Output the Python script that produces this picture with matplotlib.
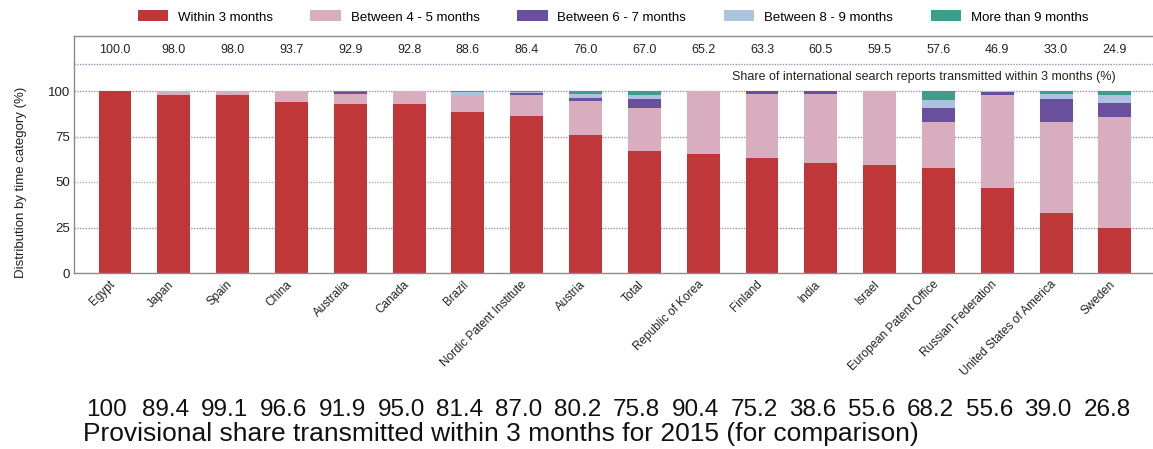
import matplotlib
matplotlib.use("Agg")
import matplotlib.pyplot as plt
from matplotlib import font_manager
from matplotlib.patches import Patch
import matplotlib.transforms as mtransforms
import numpy as np

categories = ["Egypt", "Japan", "Spain", "China", "Australia", "Canada", "Brazil",
              "Nordic Patent Institute", "Austria", "Total", "Republic of Korea",
              "Finland", "India", "Israel", "European Patent Office",
              "Russian Federation", "United States of America", "Sweden"]
within_3 = [100.0, 98.0, 98.0, 93.7, 92.9, 92.8, 88.6, 86.4, 76.0, 67.0, 65.2,
            63.3, 60.5, 59.5, 57.6, 46.9, 33.0, 24.9]
between_4_5 = [0.0, 2.0, 1.8, 5.7, 5.6, 6.7, 8.5, 11.2, 18.3, 23.7, 34.6,
               35.3, 38.1, 40.5, 25.2, 51.1, 49.8, 60.6]
between_6_7 = [0.0, 0.0, 0.1, 0.2, 0.8, 0.2, 0.2, 1.5, 1.7, 4.9, 0.0,
               1.2, 1.2, 0.0, 7.9, 1.6, 12.8, 7.9]
between_8_9 = [0.0, 0.0, 0.05, 0.2, 0.4, 0.1, 2.0, 0.6, 2.6, 2.0, 0.0,
               0.1, 0.1, 0.0, 4.3, 0.2, 3.0, 4.6]
more_9 = [0.0, 0.0, 0.05, 0.2, 0.3, 0.2, 0.7, 0.3, 1.4, 2.4, 0.2,
          0.1, 0.1, 0.0, 5.0, 0.2, 1.4, 2.0]
header_values = ["100.0", "98.0", "98.0", "93.7", "92.9", "92.8", "88.6", "86.4",
                 "76.0", "67.0", "65.2", "63.3", "60.5", "59.5", "57.6", "46.9",
                 "33.0", "24.9"]
provisional_2015 = ["100", "89.4", "99.1", "96.6", "91.9", "95.0", "81.4", "87.0",
                    "80.2", "75.8", "90.4", "75.2", "38.6", "55.6", "68.2", "55.6",
                    "39.0", "26.8"]
series_names = ["Within 3 months", "Between 4 - 5 months", "Between 6 - 7 months",
                "Between 8 - 9 months", "More than 9 months"]
y_ticks = [0, 25, 50, 75, 100]

colors = ["#c0373a", "#d8adbd", "#6a4f9e", "#adc2df", "#3f9d8c"]

avail = {f.name for f in font_manager.fontManager.ttflist}
narrow = "Liberation Sans Narrow" if "Liberation Sans Narrow" in avail else "Liberation Sans"
plt.rcParams["font.family"] = [narrow, "DejaVu Sans"]

W, H = 1153, 449
fig = plt.figure(figsize=(W / 100, H / 100), dpi=100)
left_px, right_px, bot_px, top_px = 74, 1160, 273, 36
ax = fig.add_axes([left_px / W, 1 - bot_px / H, (right_px - left_px) / W, (bot_px - top_px) / H])

x = np.arange(len(categories))
px_per_unit = 58.82
xl = -(115 - left_px) / px_per_unit
ax.set_xlim(xl, xl + (right_px - left_px) / px_per_unit)
ymax = 100 * (bot_px - top_px) / (273 - 91)
ax.set_ylim(0, ymax)

# gridlines
for yv, c in [(25, "#9c8fb5"), (50, "#a9bca0"), (75, "#9c8fb5"), (100, "#9c8fb5")]:
    ax.axhline(yv, color=c, lw=1.0, ls=(0, (1, 1)), zorder=0)
ax.axhline(100 * (273 - 64) / (273 - 91), color="#9c8fb5", lw=1.0, ls=(0, (1, 1)), zorder=0)

bottom = np.zeros(len(categories))
series = [within_3, between_4_5, between_6_7, between_8_9, more_9]
for vals, col, name in zip(series, colors, series_names):
    vals = np.array(vals)
    ax.bar(x, vals, width=0.56, bottom=bottom, color=col, label=name, zorder=2, linewidth=0)
    bottom += vals

for s in ax.spines.values():
    s.set_color("#8a8a8a")
    s.set_linewidth(1.0)

ax.set_yticks(y_ticks)
ax.set_yticklabels([str(v) for v in y_ticks], fontsize=9.5, color="#222222")
ax.tick_params(axis="y", length=0, pad=3)
ax.set_xticks(x)
ax.set_xticklabels(categories, rotation=45, ha="right", rotation_mode="anchor",
                   fontsize=8.5, color="#222222")
ax.tick_params(axis="x", length=0, pad=4)
for lab in ax.get_xticklabels():
    lab.set_transform(lab.get_transform() + mtransforms.ScaledTranslation(-6 / 100, 0, fig.dpi_scale_trans))

ax.set_ylabel("Distribution by time category (%)", fontsize=9.5, color="#222222")
ax.yaxis.set_label_coords(-47 / (right_px - left_px), 100 / 2 / ymax)

# header values
hy = 100 * (273 - 50) / (273 - 91)
for xi, v in zip(x, header_values):
    ax.text(xi, hy, v, ha="center", va="center", fontsize=9, color="#222222")
sy = 100 * (273 - 77) / (273 - 91)
ax.text(x[-1] + 0.02, sy, "Share of international search reports transmitted within 3 months (%)",
        ha="right", va="center", fontsize=9, color="#222222")

# legend
handles = [Patch(facecolor=c, edgecolor="none") for c in colors]
fig.legend(handles, series_names, loc="center", bbox_to_anchor=(613 / W, 1 - 17 / H),
           ncol=5, frameon=False, fontsize=9.5, handlelength=2.3, handleheight=0.9,
           columnspacing=2.85, handletextpad=0.75)

# provisional 2015 values
trans = mtransforms.blended_transform_factory(ax.transData, fig.transFigure)
off = mtransforms.ScaledTranslation(-8 / 100, 0, fig.dpi_scale_trans)
for xi, v in zip(x, provisional_2015):
    fig.text(xi, 1 - 410 / H, v, transform=trans + off, ha="center", va="center",
             fontsize=17.5, family=["Liberation Sans", "DejaVu Sans"], color="#111111")
fig.text(83 / W, 1 - 434 / H, "Provisional share transmitted within 3 months for 2015 (for comparison)",
         ha="left", va="center", fontsize=19, family=["Liberation Sans", "DejaVu Sans"],
         color="#111111")

fig.savefig("out.png", dpi=100)
